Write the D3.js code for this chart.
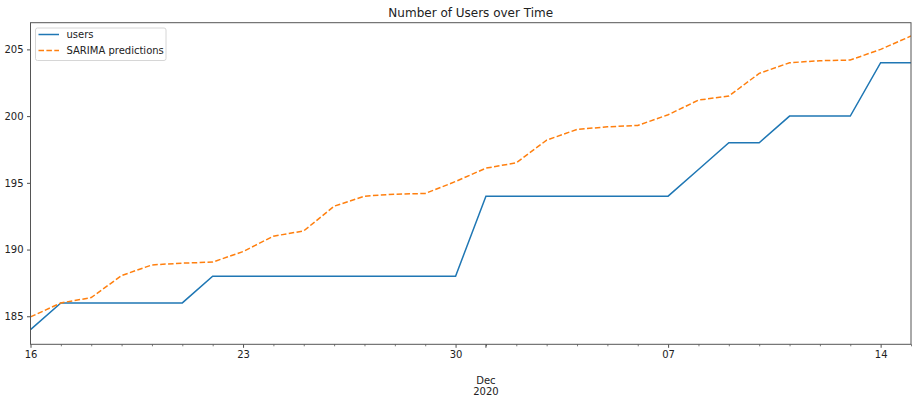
<!DOCTYPE html>
<html><head><meta charset="utf-8">
<script src="https://cdn.jsdelivr.net/npm/d3@7"></script>
<style>body{margin:0;background:#fff}svg{display:block}text{font-family:"DejaVu Sans",sans-serif;fill:#222}</style>
</head><body><svg id="c" width="913" height="396"></svg>
<script>
const startDate = "2020-11-16";
const users = [184,186,186,186,186,186,188,188,188,188,188,188,188,188,188,194,194,194,194,194,194,194,196,198,198,200,200,200,204,204];
const sarima = [184.95,186.0,186.4,188.05,188.85,188.98,189.06,189.85,191.0,191.4,193.25,194.0,194.15,194.2,195.1,196.1,196.5,198.2,199.0,199.2,199.3,200.1,201.2,201.5,203.2,204.0,204.15,204.2,205.0,206.0];
const yTicks = [185,190,195,200,205];
const seriesNames = ["users","SARIMA predictions"];
const colors = ["#1f77b4","#ff7f0e"];
const title = "Number of Users over Time";

const svg = d3.select("#c");
const m = {l:30.5, r:911, t:22.7, b:344.3};
const parse = d3.utcParse("%Y-%m-%d");
const d0 = parse(startDate);
const dates = users.map((_,i)=>d3.utcDay.offset(d0,i));
const x = d3.scaleUtc().domain([dates[0], dates[dates.length-1]]).range([m.l,m.r]);
const y = d3.scaleLinear().domain([182.9,207.0]).range([m.b,m.t]);

// title
svg.append("text").attr("x",(m.l+m.r)/2).attr("y",16.5).attr("text-anchor","middle").attr("font-size",12).text(title);

// lines
const line = vals => d3.line().x((d,i)=>x(dates[i])).y(d=>y(d))(vals);
const clip = svg.append("clipPath").attr("id","cp").append("rect").attr("x",m.l).attr("y",m.t).attr("width",m.r-m.l).attr("height",m.b-m.t);
svg.append("path").attr("d",line(users)).attr("fill","none").attr("stroke",colors[0]).attr("stroke-width",1.5).attr("clip-path","url(#cp)");
svg.append("path").attr("d",line(sarima)).attr("fill","none").attr("stroke",colors[1]).attr("stroke-width",1.5).attr("stroke-dasharray","5.5,2.4").attr("clip-path","url(#cp)");

// axes
const majors = d3.utcMonday.range(dates[0], d3.utcDay.offset(dates[dates.length-1],1));
const xAxis = d3.axisBottom(x).tickValues(majors).tickFormat(d3.utcFormat("%d")).tickSize(3.5).tickPadding(3.5);
const gx = svg.append("g").attr("transform",`translate(0,${m.b})`).call(xAxis);
gx.select(".domain").remove();
gx.selectAll("text").attr("font-size",10).attr("fill","#222").style("font-family","DejaVu Sans");
gx.selectAll("line").attr("stroke","#222").attr("stroke-width",0.8);
const minors = dates.filter(d=>!majors.some(mj=>+mj===+d));
const xMinor = d3.axisBottom(x).tickValues(minors).tickFormat("").tickSize(2);
const gm = svg.append("g").attr("transform",`translate(0,${m.b})`).call(xMinor);
gm.select(".domain").remove();
gm.selectAll("line").attr("stroke","#222").attr("stroke-width",0.6);
// month label
const dec1 = d3.utcMonth.ceil(dates[0]);
svg.append("line").attr("x1",x(dec1)).attr("x2",x(dec1)).attr("y1",m.b).attr("y2",m.b+3.5).attr("stroke","#222").attr("stroke-width",0.8);
svg.append("text").attr("x",x(dec1)).attr("y",384).attr("text-anchor","middle").attr("font-size",10).text(d3.utcFormat("%b")(dec1));
svg.append("text").attr("x",x(dec1)).attr("y",395).attr("text-anchor","middle").attr("font-size",10).text(d3.utcFormat("%Y")(dec1));

const yAxis = d3.axisLeft(y).tickValues(yTicks).tickSize(3.5).tickPadding(3.5);
const gy = svg.append("g").attr("transform",`translate(${m.l},0)`).call(yAxis);
gy.select(".domain").remove();
gy.selectAll("text").attr("font-size",10).attr("fill","#222").style("font-family","DejaVu Sans");
gy.selectAll("line").attr("stroke","#222").attr("stroke-width",0.8);

// frame
svg.append("rect").attr("x",m.l).attr("y",m.t).attr("width",m.r-m.l).attr("height",m.b-m.t).attr("fill","none").attr("stroke","#555").attr("stroke-width",1);

// legend
const lg = svg.append("g");
lg.append("rect").attr("x",35.5).attr("y",28).attr("width",130.5).attr("height",32.5).attr("rx",2).attr("fill","#fff").attr("fill-opacity",0.8).attr("stroke","#ccc").attr("stroke-width",0.8);
seriesNames.forEach((n,i)=>{
  const yy = 34.5 + i*16;
  lg.append("line").attr("x1",38.5).attr("x2",59).attr("y1",yy).attr("y2",yy).attr("stroke",colors[i]).attr("stroke-width",1.5).attr("stroke-dasharray", i===1?"5.5,2.4":null);
  lg.append("text").attr("x",66.5).attr("y",yy+3.5).attr("font-size",10).text(n);
});
</script></body></html>
